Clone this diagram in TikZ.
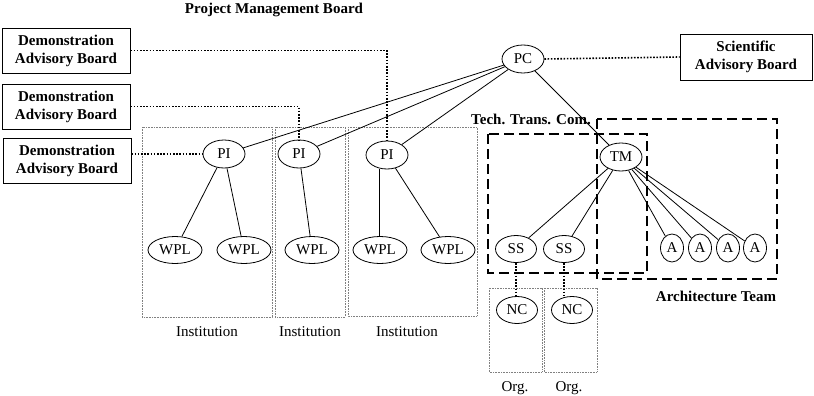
\documentclass[tikz,border=0pt]{standalone}
\usepackage{fontspec}
\setmainfont{Liberation Serif}
\usetikzlibrary{shapes.geometric}
\begin{document}
\begin{tikzpicture}[x=1pt,y=-1pt,
  every node/.style={font=\fontsize{15}{18}\selectfont},
  el/.style={ellipse,draw,line width=0.8pt,inner sep=0pt,minimum width=42pt,minimum height=28pt},
  wpl/.style={el,minimum width=54pt,minimum height=27pt},
  ssn/.style={el,minimum width=41pt,minimum height=27pt},
  anode/.style={el,minimum width=23pt,minimum height=28pt},
  board/.style={draw,line width=0.9pt,align=center,font=\bfseries\fontsize{15}{18}\selectfont,minimum width=128pt,minimum height=45pt,inner sep=0pt},
  link/.style={line width=0.8pt},
  dots/.style={line width=1.6pt,dash pattern=on 1.6pt off 1.6pt},
  group/.style={draw=gray,line width=0.6pt,dash pattern=on 0.8pt off 0.8pt},
  team/.style={draw,line width=2pt,dash pattern=on 10pt off 5pt},
  lbl/.style={font=\bfseries\fontsize{15}{18}\selectfont}
]
\useasboundingbox (0,0) rectangle (814,396);
% groups
\draw[group] (142,127) rectangle (272,317);
\draw[group] (275,127) rectangle (345,317);
\draw[group] (348,127) rectangle (477,316);
\draw[group] (489,288) rectangle (542,372);
\draw[group] (544,288) rectangle (597,372);
\draw[team] (488,134) rectangle (647,273);
\draw[team] (597,119) rectangle (777,279);
% labels
\node[lbl] (pmb) at (274,10) {Project Management Board};
\node[lbl] (ttc) at (531,119) {Tech. Trans. Com.};
\node[lbl] (at) at (716,296) {Architecture Team};
\node (inst1) at (207,332) {Institution};
\node (inst2) at (310,332) {Institution};
\node (inst3) at (407,332) {Institution};
\node (org1) at (515,388) {Org.};
\node (org2) at (569,388) {Org.};
% boards
\node[board] (dab1) at (66,50.5) {Demonstration\\Advisory Board};
\node[board] (dab2) at (66,106.5) {Demonstration\\Advisory Board};
\node[board] (dab3) at (67,160.5) {Demonstration\\Advisory Board};
\node[board,minimum width=132pt,minimum height=46pt] (sab) at (746,57) {Scientific\\Advisory Board};
% nodes
\node[el] (pc) at (523,59) {PC};
\node[el] (pi1) at (224,154) {PI};
\node[el] (pi2) at (299,154) {PI};
\node[el] (pi3) at (387,155) {PI};
\node[el] (tm) at (621,157) {TM};
\node[wpl] (w1) at (175,250) {WPL};
\node[wpl] (w2) at (244,250) {WPL};
\node[wpl] (w3) at (312,250) {WPL};
\node[wpl] (w4) at (380,250) {WPL};
\node[wpl] (w5) at (448,250) {WPL};
\node[ssn] (ss1) at (516,249) {SS};
\node[ssn] (ss2) at (564,249) {SS};
\node[ssn] (nc1) at (517,310) {NC};
\node[ssn] (nc2) at (572,310) {NC};
\node[anode] (a1) at (672,248) {A};
\node[anode] (a2) at (700,248) {A};
\node[anode] (a3) at (728,248) {A};
\node[anode] (a4) at (755,248) {A};
% solid links
\draw[link] (pc) -- (pi1);
\draw[link] (pc) -- (pi2);
\draw[link] (pc) -- (pi3);
\draw[link] (pc) -- (tm);
\draw[link] (pi1) -- (w1);
\draw[link] (pi1) -- (w2);
\draw[link] (pi2) -- (w3);
\draw[link] (pi3.-118) -- (pi3.-118 |- w4.north);
\draw[link] (pi3) -- (w5);
\draw[link] (tm) -- (ss1);
\draw[link] (tm) -- (ss2);
\draw[link] (tm) -- (a1);
\draw[link] (tm) -- (a2);
\draw[link] (tm) -- (a3);
\draw[link] (tm) -- (a4);
% dotted links
\draw[dots] (dab1.east) -| (pi3.north);
\draw[dots] (dab2.east) -| (pi2.north);
\draw[dots] (dab3.east |- pi1.west) -- (pi1.west);
\draw[dots] (pc.east) -- (sab.west);
\draw[dots] (ss1.south) -- (ss1.south |- nc1.north);
\draw[dots] (ss2.south) -- (ss2.south |- nc2.north);
\end{tikzpicture}
\end{document}
